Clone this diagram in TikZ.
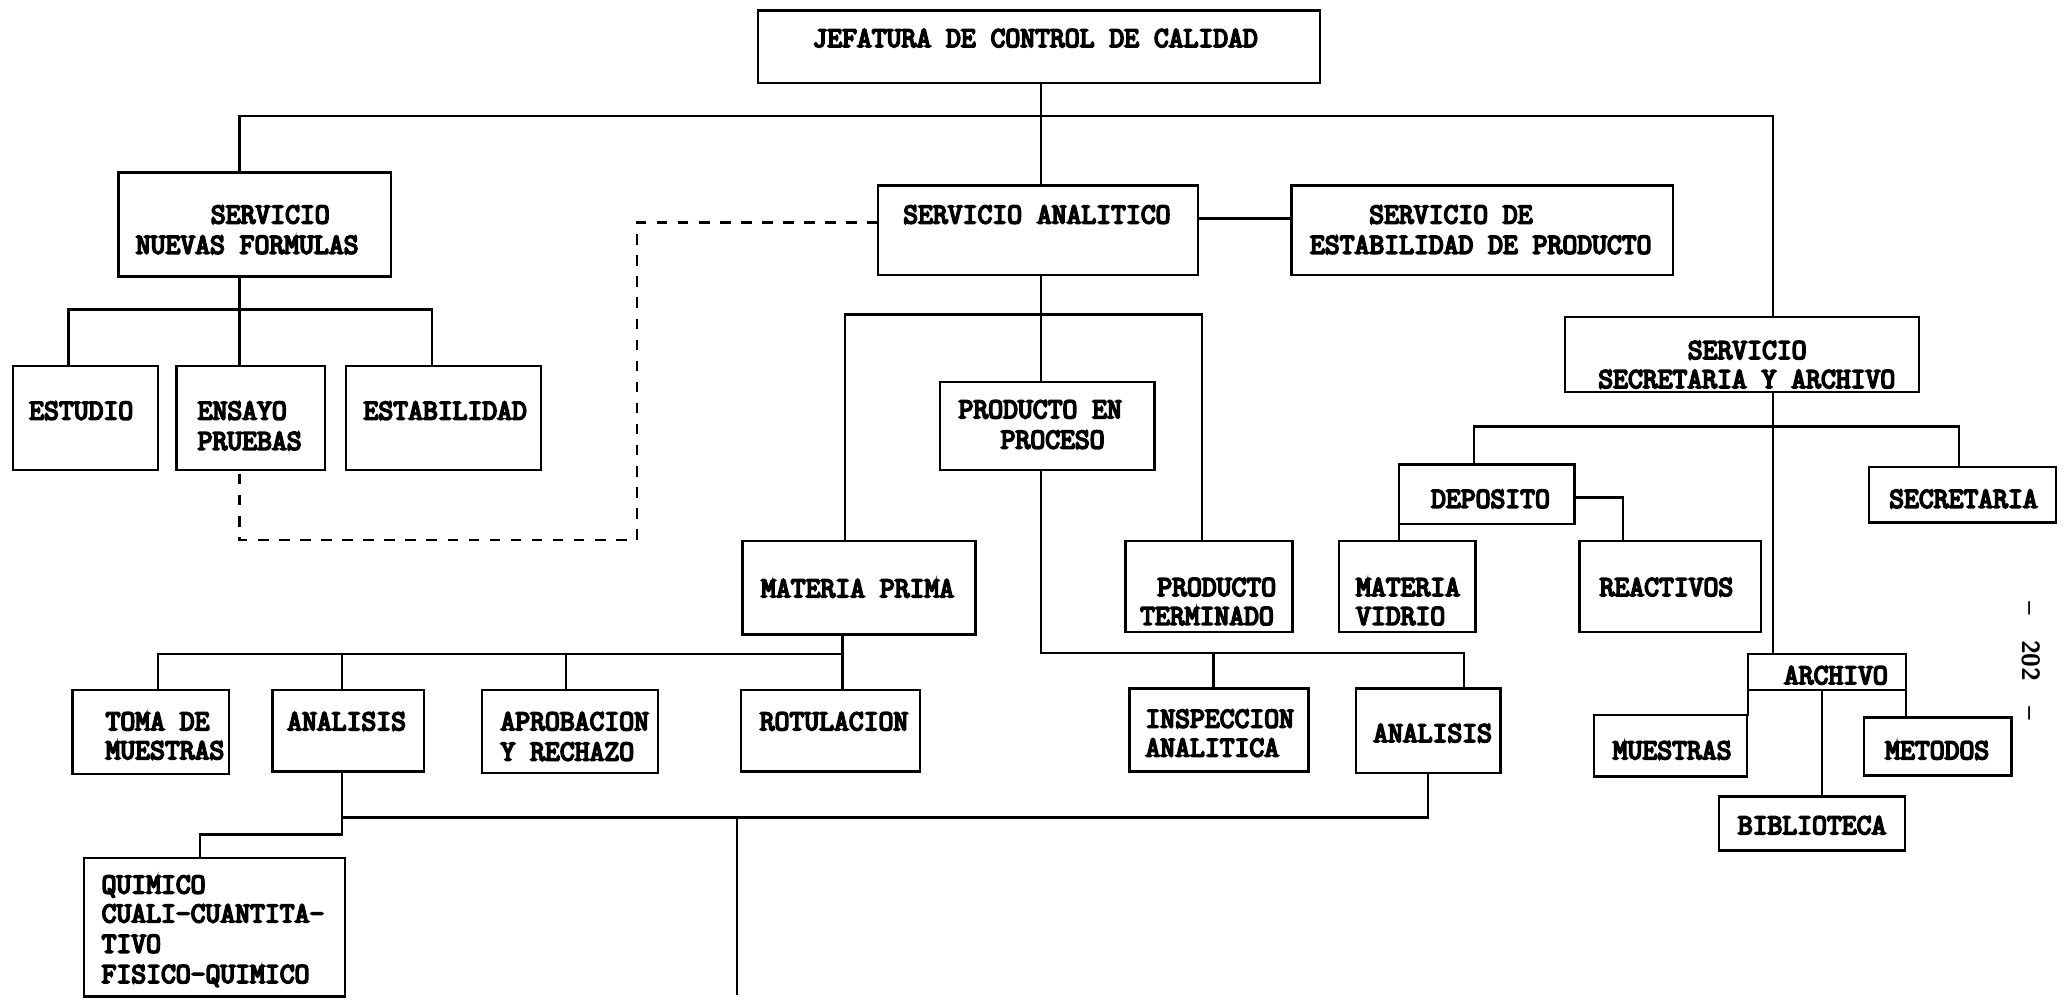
\documentclass[tikz,border=0pt]{standalone}
\usepackage{tikz}
\usepackage{fontspec}
% heavy typewriter face for all box labels
\newfontfamily\typ{Latin Modern Mono}[FakeBold=6]

\tikzset{
  box/.style={draw, line width=1.8pt, inner sep=0pt, outer sep=0pt},
  lbl/.style={font=\typ\fontsize{21.9}{22}\selectfont, inner sep=0pt, anchor=base west},
  link/.style={line width=1.8pt, line cap=rect},
  dashline/.style={line width=1.8pt, dash pattern=on 8pt off 8pt}
}

% box given by its corners (x1,y1) (x2,y2), y measured downwards
\newcommand\bx[5]{\node[box, minimum width={(#4-#2)*1pt}, minimum height={(#5-#3)*1pt}] (#1) at ({(#2+#4)/2},{(#3+#5)/2}) {};}
% one line of text: left end x, middle of the capitals y
\newcommand\tx[4]{\node[lbl] (#1) at (#2,{#3+6.7}) {#4};}

\begin{document}
\begin{tikzpicture}[x=1pt, y=-1pt]
\fill[white] (0,0) rectangle (1568,763);
\useasboundingbox (0,0) rectangle (1568,763);

% ---- boxes
\bx{jef}{576}{8}{1003}{63}
\bx{snf}{90}{131}{297}{210}
\bx{sa}{667}{141}{910}{209}
\bx{sep}{981}{141}{1271}{209}
\bx{est}{10}{278}{120}{357}
\bx{ens}{134}{278}{247}{357}
\bx{estab}{263}{278}{411}{357}
\bx{pep}{714}{290}{877}{357}
\bx{mp}{564}{411}{741}{482}
\bx{pt}{855}{411}{982}{480}
\bx{toma}{55}{524}{174}{588}
\bx{anA}{207}{524}{322}{586}
\bx{apr}{366}{524}{500}{587}
\bx{rot}{563}{524}{699}{586}
\bx{insp}{858}{523}{994}{586}
\bx{anB}{1030}{523}{1140}{587}
\bx{quim}{64}{652}{262}{757}
\bx{ssa}{1189}{241}{1458}{298}
\bx{dep}{1063}{353}{1196}{398}
\bx{mv}{1017}{411}{1121}{480}
\bx{reac}{1200}{411}{1338}{480}
\bx{secr}{1420}{355}{1562}{397}
\bx{arch}{1328}{497}{1448}{524}
\bx{mues}{1211}{543}{1327}{590}
\bx{met}{1416}{545}{1528}{589}
\bx{bib}{1306}{605}{1447}{646}

% ---- texts
\tx{t1}{617}{29}{JEFATURA DE CONTROL DE CALIDAD}
\tx{t2}{160}{163}{SERVICIO}
\tx{t3}{103}{186}{NUEVAS FORMULAS}
\tx{t4}{686}{163}{SERVICIO ANALITICO}
\tx{t5}{1040}{163}{SERVICIO DE}
\tx{t6}{995}{186}{ESTABILIDAD DE PRODUCTO}
\tx{t7}{22}{312}{ESTUDIO}
\tx{t8}{150}{312}{ENSAYO}
\tx{t9}{150}{335}{PRUEBAS}
\tx{t10}{276}{312}{ESTABILIDAD}
\tx{t11}{728}{311}{PRODUCTO EN}
\tx{t12}{760}{334}{PROCESO}
\tx{t13}{578}{447}{MATERIA PRIMA}
\tx{t14}{879}{446}{PRODUCTO}
\tx{t15}{866}{468}{TERMINADO}
\tx{t16}{80}{548}{TOMA DE}
\tx{t17}{80}{570}{MUESTRAS}
\tx{t18}{218}{548}{ANALISIS}
\tx{t19}{380}{548}{APROBACION}
\tx{t20}{380}{571}{Y RECHAZO}
\tx{t21}{577}{548}{ROTULACION}
\tx{t22}{870}{546}{INSPECCION}
\tx{t23}{870}{568}{ANALITICA}
\tx{t24}{1043}{557}{ANALISIS}
\tx{t25}{77}{672}{QUIMICO}
\tx{t26}{77}{694}{CUALI-CUANTITA-}
\tx{t27}{77}{717}{TIVO}
\tx{t28}{77}{740}{FISICO-QUIMICO}
\tx{t29}{1282}{266}{SERVICIO}
\tx{t30}{1214}{288}{SECRETARIA Y ARCHIVO}
\tx{t31}{1087}{379}{DEPOSITO}
\tx{t32}{1030}{446}{MATERIA}
\tx{t33}{1030}{468}{VIDRIO}
\tx{t34}{1215}{446}{REACTIVOS}
\tx{t35}{1435}{379}{SECRETARIA}
\tx{t36}{1355}{513}{ARCHIVO}
\tx{t37}{1225}{570}{MUESTRAS}
\tx{t38}{1432}{570}{METODOS}
\tx{t39}{1320}{627}{BIBLIOTECA}

% page number
\node[rotate=-90, inner sep=0pt, font=\sffamily\bfseries\fontsize{19}{19}\selectfont] (pg) at (1543,502) {--\quad 202\quad --};

% ---- top level
\coordinate (j0) at (791,88);
\coordinate (j1) at (182,88);
\coordinate (j2) at (1347,88);
\draw[link] (jef.south -| j0) -- (sa.north -| j0);
\draw[link] (j1 |- snf.north) -- (j1) -- (j2) -- (j2 |- ssa.north);

% analitico to estabilidad de producto
\coordinate (h1) at (940,166);
\draw[link] (sa.east |- h1) -- (sep.west |- h1);

% dashed link analitico to ensayo
\coordinate (d1) at (484,169);
\coordinate (d2) at (484,410);
\coordinate (d3) at (182,410);
\draw[dashline] (sa.west |- d1) -- (d1) -- (d2) -- (d3) -- (d3 |- ens.south);

% nuevas formulas
\coordinate (n0) at (182,235);
\coordinate (nL) at (52,235);
\coordinate (nR) at (328,235);
\draw[link] (n0 |- snf.south) -- (n0 |- ens.north);
\draw[link] (nL |- est.north) -- (nL) -- (nR) -- (nR |- estab.north);

% analitico
\coordinate (a0) at (791,239);
\coordinate (aL) at (642,239);
\coordinate (aR) at (913,239);
\draw[link] (a0 |- sa.south) -- (a0 |- pep.north);
\draw[link] (aL |- mp.north) -- (aL) -- (aR) -- (aR |- pt.north);

% producto en proceso
\coordinate (p0) at (791,496);
\coordinate (p1) at (922,496);
\coordinate (p2) at (1112,496);
\draw[link] (p0 |- pep.south) -- (p0) -- (p2) -- (p2 |- anB.north);
\draw[link] (p1) -- (p1 |- insp.north);

% materia prima
\coordinate (m0) at (640,497);
\coordinate (mL) at (120,497);
\coordinate (m1) at (260,497);
\coordinate (m2) at (430,497);
\draw[link] (m0 |- mp.south) -- (m0 |- rot.north);
\draw[link] (mL |- toma.north) -- (mL) -- (m0);
\draw[link] (m1) -- (m1 |- anA.north);
\draw[link] (m2) -- (m2 |- apr.north);

% analisis
\coordinate (q0) at (260,621);
\coordinate (q1) at (260,634);
\coordinate (q2) at (152,634);
\coordinate (r0) at (1085,621);
\coordinate (v0) at (560,621);
\coordinate (v1) at (560,755);
\draw[link] (q0 |- anA.south) -- (q1) -- (q2) -- (q2 |- quim.north);
\draw[link] (q0) -- (r0) -- (r0 |- anB.south);
\draw[link] (v0) -- (v1);

% secretaria y archivo
\coordinate (s0) at (1347,324);
\coordinate (sL) at (1120,324);
\coordinate (sR) at (1488,324);
\draw[link] (s0 |- ssa.south) -- (s0 |- arch.north);
\draw[link] (sL |- dep.north) -- (sL) -- (sR) -- (sR |- secr.north);

% deposito
\coordinate (e1) at (1233,378);
\draw[link] (dep.east |- e1) -- (e1) -- (e1 |- reac.north);
\draw[link] (dep.south west) -- (dep.south west |- mv.north);

% archivo
\coordinate (b0) at (1384,524);
\draw[link] (arch.south west) -- (arch.south west |- mues.north);
\draw[link] (b0) -- (b0 |- bib.north);
\draw[link] (arch.south east) -- (arch.south east |- met.north);
\end{tikzpicture}
\end{document}
